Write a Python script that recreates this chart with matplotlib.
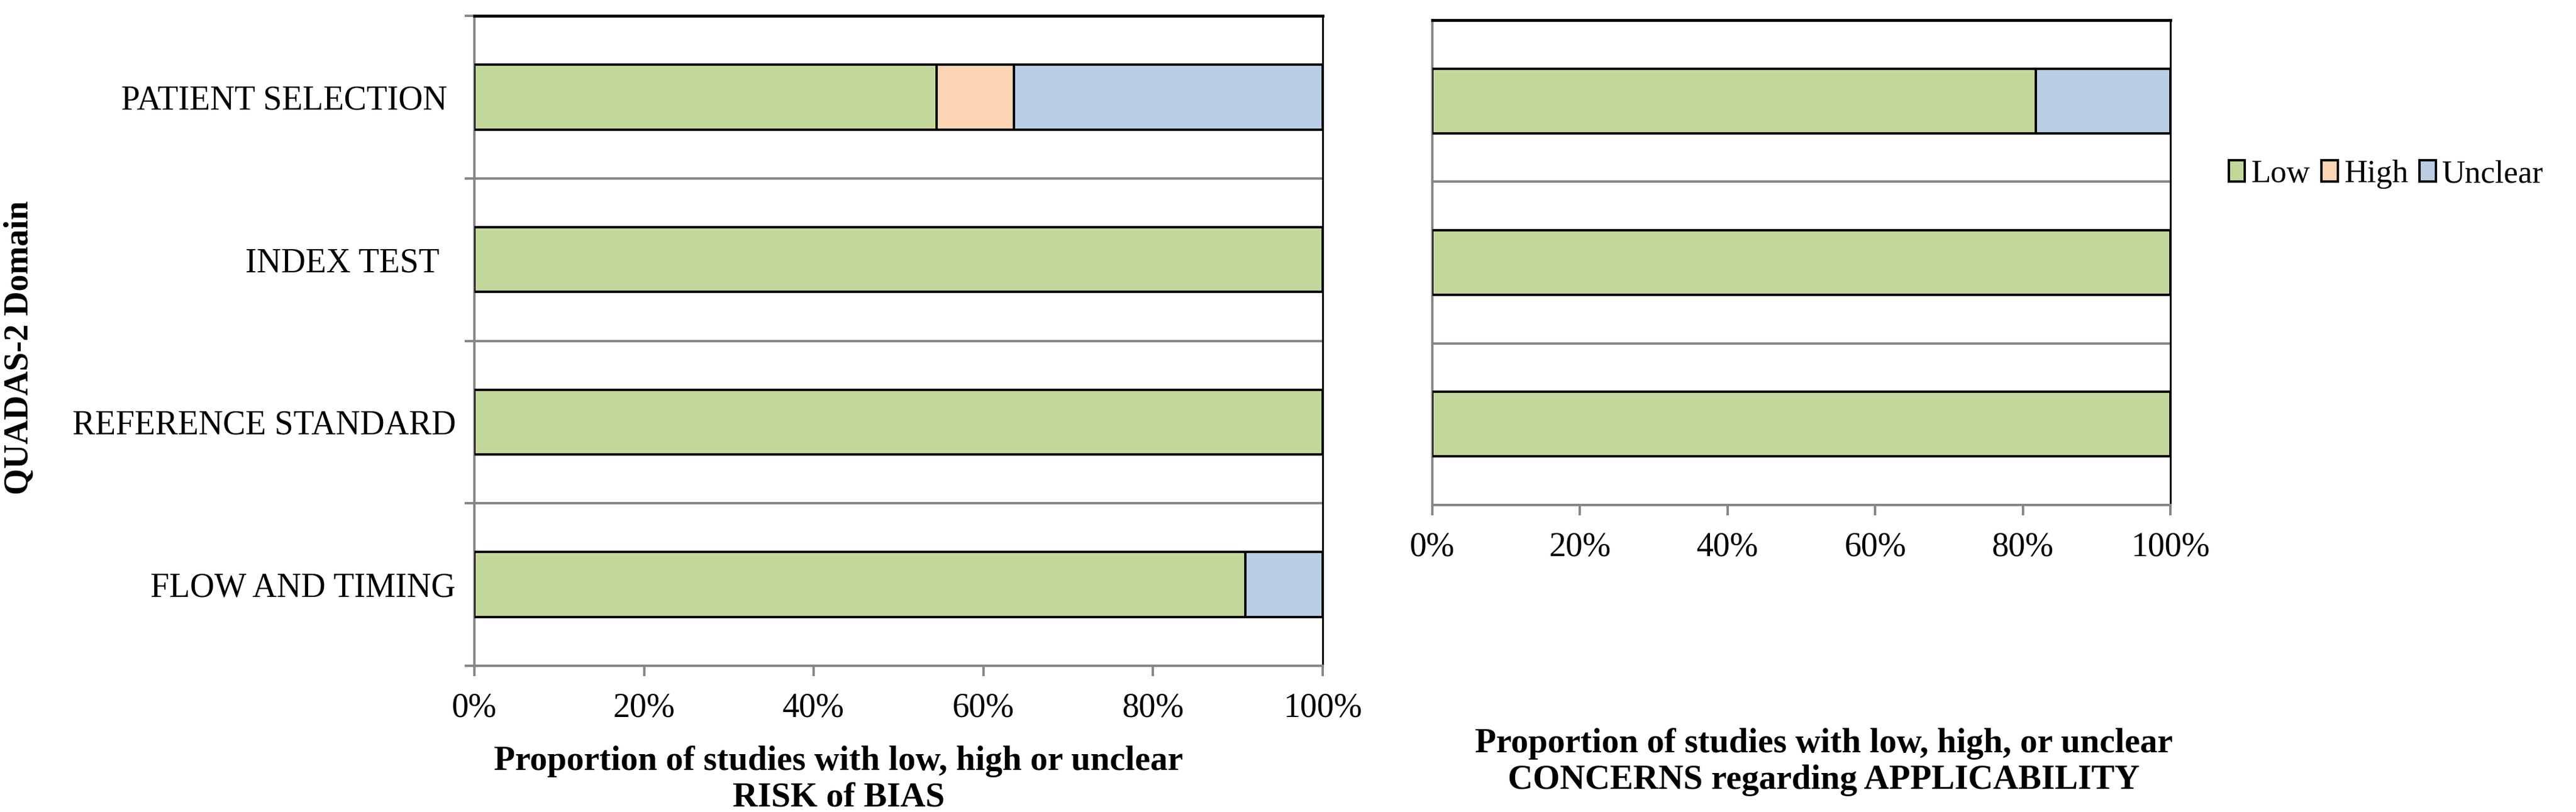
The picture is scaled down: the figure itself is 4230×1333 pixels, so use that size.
import numpy as np
import matplotlib.pyplot as plt
from matplotlib.patches import Patch

plt.rcParams['font.family'] = ['Liberation Serif', 'DejaVu Serif']

# data: % of studies per QUADAS-2 domain
domains_bias = ['PATIENT SELECTION ', 'INDEX TEST  ', 'REFERENCE STANDARD', 'FLOW AND TIMING']
low_bias = [54.5, 100, 100, 90.9]
high_bias = [9.1, 0, 0, 0]
unclear_bias = [36.4, 0, 0, 9.1]

domains_appl = ['PATIENT SELECTION', 'INDEX TEST', 'REFERENCE STANDARD']
low_appl = [81.8, 100, 100]
high_appl = [0, 0, 0]
unclear_appl = [18.2, 0, 0]

categories = ['Low', 'High', 'Unclear']
colors = ['#C4D79B', '#FCD5B5', '#B9CDE5']
grey = '#868686'
fs = 40


def draw_panel(ax, labels, low, high, unclear, show_labels=True):
    n = len(labels)
    y = np.arange(n)
    left = np.zeros(n)
    for vals, c in zip([low, high, unclear], colors):
        vals = np.array(vals)
        ax.barh(y, vals, left=left, height=0.4, color=c,
                edgecolor='black', linewidth=2.8, zorder=3)
        left = left + vals

    ax.set_xlim(0, 100)
    ax.set_ylim(n - 0.5, -0.5)
    ax.set_xticks(np.arange(0, 101, 20))
    ax.set_xticklabels([f'{v}%' for v in range(0, 101, 20)], fontsize=fs)
    ax.tick_params(axis='x', direction='out', length=12, width=2.8,
                   color=grey, pad=19)

    # category boundaries as major ticks + grid, labels on minor ticks
    ax.set_yticks(np.arange(n + 1) - 0.5)
    ax.set_yticklabels([])
    ax.set_yticks(y, minor=True)
    if show_labels:
        ax.set_yticklabels(labels, minor=True, fontsize=fs)
        ax.tick_params(axis='y', which='major', direction='out', length=11.5,
                       width=2.8, color=grey)
    else:
        ax.set_yticklabels([], minor=True)
        ax.tick_params(axis='y', which='major', length=0)
    ax.tick_params(axis='y', which='minor', length=0, pad=22)
    ax.yaxis.grid(True, which='major', color=grey, linewidth=2.8, zorder=0)
    ax.set_axisbelow(True)

    ax.spines['left'].set_color(grey)
    ax.spines['bottom'].set_color(grey)
    ax.spines['left'].set_linewidth(2.8)
    ax.spines['bottom'].set_linewidth(2.8)
    ax.spines['top'].set_color('black')
    ax.spines['top'].set_linewidth(3.4)
    ax.spines['right'].set_color('black')
    ax.spines['right'].set_linewidth(2.2)


fig = plt.figure(figsize=(42.3, 13.33), dpi=100)
ax1 = fig.add_axes([779 / 4230, 1 - 1093 / 1333, 1393 / 4230, 1067 / 1333])
ax2 = fig.add_axes([2352 / 4230, 1 - 829 / 1333, 1212 / 4230, 796 / 1333])

draw_panel(ax1, domains_bias, low_bias, high_bias, unclear_bias)
draw_panel(ax2, domains_appl, low_appl, high_appl, unclear_appl, show_labels=False)

fig.text(0.0076, 0.572, 'QUADAS-2 Domain', rotation=90, fontsize=fs,
         fontweight='bold', ha='center', va='center')

fig.text(1377 / 4230, 1 - 1280 / 1333,
         'Proportion of studies with low, high or unclear\nRISK of BIAS',
         fontsize=41, fontweight='bold', ha='center', va='center',
         multialignment='center', linespacing=1.2)
fig.text(2995 / 4230, 1 - 1251 / 1333,
         'Proportion of studies with low, high, or unclear\nCONCERNS regarding APPLICABILITY',
         fontsize=41, fontweight='bold', ha='center', va='center',
         multialignment='center', linespacing=1.2)

handles = [Patch(facecolor=c, edgecolor='black', linewidth=2.8) for c in colors]
fig.legend(handles, categories, ncol=3, loc='center left',
           bbox_to_anchor=(3660 / 4230, 1 - 286 / 1333), frameon=False,
           fontsize=38, handlelength=0.5, handleheight=0.65, handletextpad=0.2,
           columnspacing=0.35, borderpad=0, borderaxespad=0)

fig.savefig('out.png', dpi=100)
